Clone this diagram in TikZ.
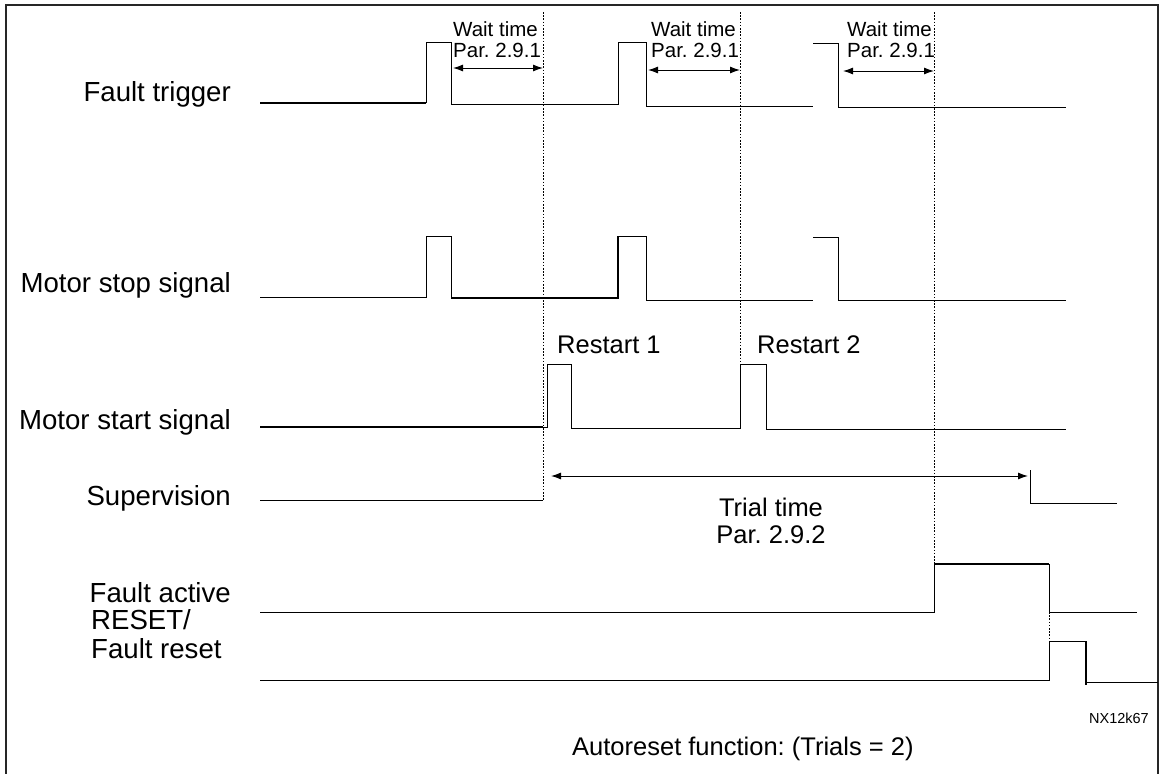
\documentclass[tikz,border=0pt]{standalone}
\usepackage{fontspec}
\setmainfont{Liberation Sans}
\usetikzlibrary{arrows.meta}
\frenchspacing
\tikzset{
  sig/.style={line width=1pt, line join=miter},
  sigthick/.style={line width=1.8pt},
  vdot/.style={line width=0.9pt, dash pattern=on 1.6pt off 1.6pt},
  dim/.style={line width=1pt, {Latex[length=10pt,width=7pt]}-{Latex[length=10pt,width=7pt]}},
  lbl/.style={font=\fontsize{27.6}{30}\selectfont, inner sep=0pt, anchor=base east},
  lbll/.style={font=\fontsize{27.6}{30}\selectfont, inner sep=0pt, anchor=base west},
  wt/.style={font=\fontsize{20.5}{22}\selectfont, inner sep=0pt, anchor=base west},
  mid/.style={font=\fontsize{25.5}{28}\selectfont, inner sep=0pt},
}
\begin{document}
\begin{tikzpicture}[x=1pt,y=-1pt]
\useasboundingbox (0,0) rectangle (1160,774);
% frame
\draw[line width=2pt, black!85] (6,780) -- (6,5) -- (1158,5) -- (1158,780);

% labels
\node[lbl] (lft) at (231,101) {Fault trigger};
\node[lbl] (lms) at (231,292) {Motor stop signal};
\node[lbl] (lmt) at (231,429) {Motor start signal};
\node[lbl] (lsv) at (231,505) {Supervision};
\node[lbl] (lfa) at (231,602) {Fault active};
\node[lbll] (lr1) at (91,629) {RESET/};
\node[lbll] (lr2) at (91,658) {Fault reset};

% Fault trigger
\draw[sigthick] (260,103) -- (426,103);
\draw[sig] (426,103) -- (426,42) -- (451,42) -- (451,104) -- (618,104) -- (618,42) -- (646,42) -- (646,106) -- (813,106);
\draw[sig] (813,43) -- (838,43) -- (838,107) -- (1066,107);

% Motor stop signal
\draw[sig] (260,297) -- (426,297) -- (426,236) -- (451,236) -- (451,298);
\draw[sigthick] (451,298) -- (618,298) -- (618,236);
\draw[sig] (618,236) -- (646,236) -- (646,300) -- (813,300);
\draw[sig] (813,237) -- (838,237) -- (838,300) -- (1066,300);

% Motor start signal
\draw[sigthick] (260,427) -- (543,427);
\draw[sig] (543,427) -- (547,427) -- (547,364) -- (571,364) -- (571,428) -- (740,428) -- (740,364) -- (766,364) -- (766,429) -- (1066,429);

% Supervision
\draw[sig] (260,500) -- (543,500);
\coordinate (trA) at (551,476);
\coordinate (trB) at (1028,476);
\draw[dim] (trA) -- (trB);
\draw[sig] (1030,470) -- (1030,503) -- (1117,503);

% Fault active
\draw[sig] (260,612) -- (934,612) -- (934,564);
\draw[sigthick] (934,564) -- (1049,564);
\draw[sig] (1049,564) -- (1049,612) -- (1137,612);

% RESET / Fault reset
\draw[sig] (260,680) -- (1049,680) -- (1049,641) -- (1086,641);
\draw[sigthick] (1086,641) -- (1086,685);
\draw[sig] (1086,682) -- (1158,682);

% dotted time markers
\draw[vdot] (543,12) -- (543,500);
\draw[vdot] (740,12) -- (740,364);
\draw[vdot] (934,12) -- (934,564);
\draw[vdot] (1049,612) -- (1049,641);

% wait-time dimension arrows
\coordinate (w1a) at (453,68); \coordinate (w1b) at (543,68);
\coordinate (w2a) at (648,70); \coordinate (w2b) at (740,70);
\coordinate (w3a) at (843,71); \coordinate (w3b) at (934,71);
\draw[dim] (w1a) -- (w1b);
\draw[dim] (w2a) -- (w2b);
\draw[dim] (w3a) -- (w3b);

\node[wt] (wt1) at (453,36) {Wait time};
\node[wt] (wp1) at (453,57) {Par. 2.9.1};
\node[wt] (wt2) at (651,36) {Wait time};
\node[wt] (wp2) at (651,57) {Par. 2.9.1};
\node[wt] (wt3) at (847,36) {Wait time};
\node[wt] (wp3) at (847,57) {Par. 2.9.1};

% restart labels
\node[mid, anchor=base west] (rs1) at (557,353) {Restart 1};
\node[mid, anchor=base west] (rs2) at (757,353) {Restart 2};

% trial time
\node[mid, anchor=base] (tt1) at (771,516) {Trial time};
\node[mid, anchor=base] (tt2) at (771,543) {Par. 2.9.2};

% footer
\node[font=\fontsize{14.5}{16}\selectfont, inner sep=0pt, anchor=base east] (nx) at (1149,723) {NX12k67};
\node[mid, anchor=base west] (auto) at (572,755) {Autoreset function: (Trials = 2)};
\end{tikzpicture}
\end{document}
